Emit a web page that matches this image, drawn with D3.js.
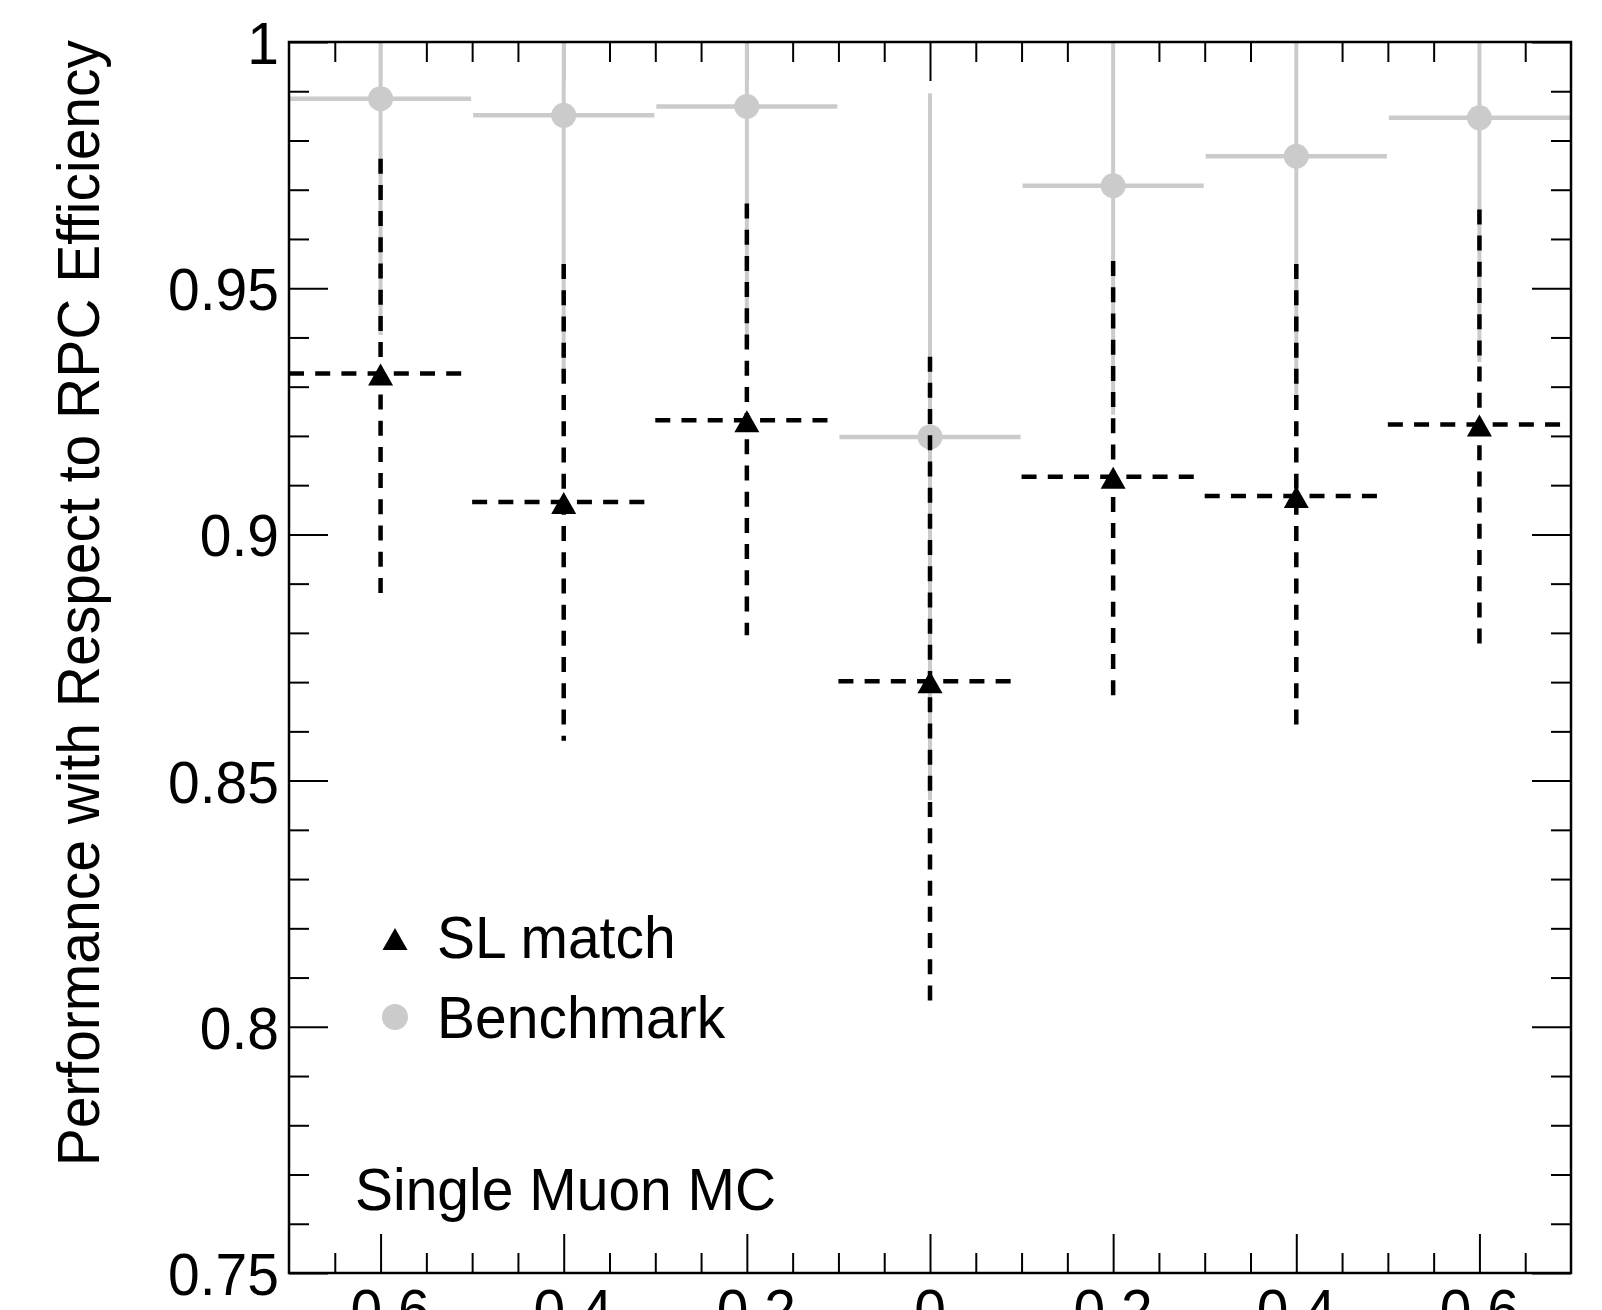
<!DOCTYPE html>
<html><head><meta charset="utf-8">
<script src="https://cdn.jsdelivr.net/npm/d3@7"></script>
<style>body{margin:0;background:#fff;overflow:hidden} svg{display:block}</style>
</head><body>
<svg id="c" width="1602" height="1310"></svg>
<script>
// ---- data ----
const binCenters = [-0.6, -0.4, -0.2, 0, 0.2, 0.4, 0.6];
const binLow     = [-0.7, -0.5, -0.3, -0.1, 0.1, 0.3, 0.5];
const binHigh    = [-0.5, -0.3, -0.1, 0.1, 0.3, 0.5, 0.7];

const slMatch = [0.9327, 0.9066, 0.9232, 0.8702, 0.9117, 0.9078, 0.9223];
const slUpper = [0.9763, 0.9549, 0.9672, 0.9361, 0.9555, 0.9549, 0.9660];
const slLower = [0.8871, 0.8581, 0.8795, 0.8031, 0.8664, 0.8608, 0.8774];

const benchmark = [0.9885, 0.9851, 0.9869, 0.9198, 0.9708, 0.9768, 0.9846];
const bmUpper   = [1.0, 1.0, 1.0, 0.9896, 1.0, 1.0, 1.0];
const bmLower   = [0.9405, 0.9328, 0.9380, 0.8460, 0.9243, 0.9279, 0.9350];

const xMajorTicks = [-0.6, -0.4, -0.2, 0, 0.2, 0.4, 0.6];
const xTickLabels = ["-0.6", "-0.4", "-0.2", "0", "0.2", "0.4", "0.6"];
const yMajorTicks = [0.75, 0.8, 0.85, 0.9, 0.95, 1];
const yTickLabels = ["0.75", "0.8", "0.85", "0.9", "0.95", "1"];
const legendLabels = ["SL match", "Benchmark"];
const yTitle = "Performance with Respect to RPC Efficiency";
const annotation = "Single Muon MC";

// ---- layout ----
const L = 289, R = 1571, T = 42, B = 1273;
const FONT = "'Liberation Sans', Arial, Helvetica, sans-serif";
const FS = 60, SX = 0.95;
const GRAY = "#cbcbcb";
const DASH = "15 11.2";

const x = d3.scaleLinear().domain([-0.7, 0.7]).range([L, R]);
const y = d3.scaleLinear().domain([0.75, 1]).range([B, T]);

const xMinor = d3.range(-13, 14).map(i => +(i * 0.05).toFixed(2))
  .filter(v => !xMajorTicks.some(m => Math.abs(m - v) < 1e-6));
const yMinor = d3.range(76, 100).map(i => +(i / 100).toFixed(2))
  .filter(v => !yMajorTicks.some(m => Math.abs(m - v) < 1e-6));

const svg = d3.select("#c");

function tickAxis(axisGen, scale, values, size, tr) {
  const g = svg.append("g").attr("transform", tr)
    .call(axisGen(scale).tickValues(values).tickSize(-size).tickFormat(""));
  g.select(".domain").remove();
  g.selectAll(".tick line").attr("stroke", "#000").attr("stroke-width", 2);
  return g;
}

// ticks (major & minor on all four sides, pointing inward)
tickAxis(d3.axisBottom, x, xMajorTicks, 39, `translate(0,${B})`);
tickAxis(d3.axisBottom, x, xMinor, 20, `translate(0,${B})`);
tickAxis(d3.axisTop, x, xMajorTicks, 39, `translate(0,${T})`);
tickAxis(d3.axisTop, x, xMinor, 20, `translate(0,${T})`);
tickAxis(d3.axisLeft, y, yMajorTicks, 39, `translate(${L},0)`);
tickAxis(d3.axisLeft, y, yMinor, 20, `translate(${L},0)`);
tickAxis(d3.axisRight, y, yMajorTicks, 39, `translate(${R},0)`);
tickAxis(d3.axisRight, y, yMinor, 20, `translate(${R},0)`);

// tick labels
svg.append("g").selectAll("text").data(yMajorTicks).join("text")
  .attr("transform", d => `translate(${L - 10},${y(d) + 22}) scale(${SX},1)`)
  .attr("text-anchor", "end")
  .attr("font-family", FONT).attr("font-size", FS)
  .text((d, i) => yTickLabels[i]);

svg.append("g").selectAll("text").data(xMajorTicks).join("text")
  .attr("transform", d => `translate(${x(d)},${B + 58}) scale(${SX},1)`)
  .attr("text-anchor", "middle")
  .attr("font-family", FONT).attr("font-size", FS)
  .text((d, i) => xTickLabels[i]);

// y title
svg.append("text")
  .attr("transform", `translate(99,40) rotate(-90) scale(${SX},1)`)
  .attr("text-anchor", "end")
  .attr("font-family", FONT).attr("font-size", FS)
  .text(yTitle);

// ---- benchmark (gray) ----
const bm = binCenters.map((c, i) => ({c, lo: binLow[i], hi: binHigh[i], v: benchmark[i], up: bmUpper[i], dn: bmLower[i]}));
const gB = svg.append("g");
gB.selectAll("line.h").data(bm).join("line").attr("class", "h")
  .attr("x1", d => x(d.lo) + 1).attr("x2", d => x(d.hi) - 1)
  .attr("y1", d => y(d.v)).attr("y2", d => y(d.v))
  .attr("stroke", GRAY).attr("stroke-width", 4.5);
gB.selectAll("line.v").data(bm).join("line").attr("class", "v")
  .attr("x1", d => x(d.c)).attr("x2", d => x(d.c))
  .attr("y1", d => y(d.up)).attr("y2", d => y(d.dn))
  .attr("stroke", GRAY).attr("stroke-width", 4);
gB.selectAll("circle").data(bm).join("circle")
  .attr("cx", d => x(d.c)).attr("cy", d => y(d.v)).attr("r", 12.5)
  .attr("fill", GRAY);

// ---- SL match (black, dashed) ----
const sl = binCenters.map((c, i) => ({c, lo: binLow[i], hi: binHigh[i], v: slMatch[i], up: slUpper[i], dn: slLower[i]}));
const gS = svg.append("g");
gS.selectAll("line.h").data(sl).join("line").attr("class", "h")
  .attr("x1", d => x(d.lo)).attr("x2", d => x(d.hi))
  .attr("y1", d => y(d.v)).attr("y2", d => y(d.v))
  .attr("stroke", "#000").attr("stroke-width", 4.5).attr("stroke-dasharray", DASH);
gS.selectAll("line.v").data(sl).join("line").attr("class", "v")
  .attr("x1", d => x(d.c)).attr("x2", d => x(d.c))
  .attr("y1", d => y(d.up)).attr("y2", d => y(d.dn))
  .attr("stroke", "#000").attr("stroke-width", 4.5).attr("stroke-dasharray", DASH);
const tri = "M0,-11L12.5,11L-12.5,11Z";
gS.selectAll("path").data(sl).join("path")
  .attr("transform", d => `translate(${x(d.c)},${y(d.v) + 1})`)
  .attr("d", tri).attr("fill", "#000");

// frame
svg.append("rect").attr("x", L).attr("y", T).attr("width", R - L).attr("height", B - T)
  .attr("fill", "none").attr("stroke", "#000").attr("stroke-width", 2.5);

// ---- legend ----
const lg = svg.append("g");
lg.append("path").attr("transform", "translate(395,939)").attr("d", tri).attr("fill", "#000");
lg.append("circle").attr("cx", 395).attr("cy", 1017).attr("r", 13).attr("fill", GRAY);
lg.selectAll("text").data(legendLabels).join("text")
  .attr("transform", (d, i) => `translate(437,${[958, 1038][i]}) scale(${SX},1)`)
  .attr("font-family", FONT).attr("font-size", FS)
  .text(d => d);

// annotation
svg.append("text")
  .attr("transform", `translate(355,1210) scale(${SX},1)`)
  .attr("font-family", FONT).attr("font-size", FS)
  .text(annotation);
</script>
</body></html>
